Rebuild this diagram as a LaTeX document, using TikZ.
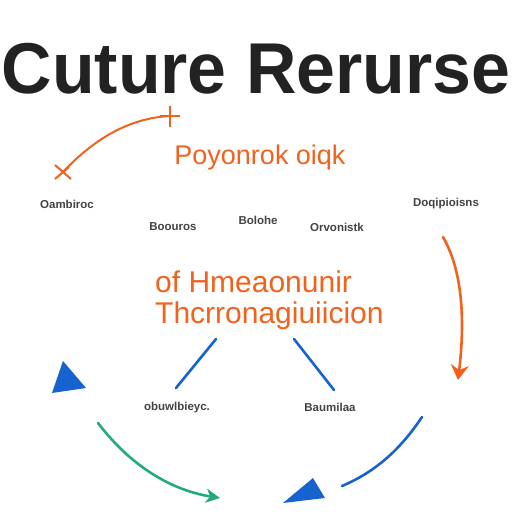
\documentclass[tikz,border=0pt]{standalone}
\usepackage{fontspec}
\setmainfont{Liberation Sans}
\usepackage{tikz}
\usetikzlibrary{arrows.meta,positioning}
\definecolor{org}{RGB}{242,98,28}
\definecolor{blu}{RGB}{22,98,206}
\definecolor{grn}{RGB}{34,172,122}
\definecolor{ink}{RGB}{34,34,34}

\begin{document}
\begin{tikzpicture}[x=1pt,y=-1pt]
\tikzstyle{title}=[text=ink,inner sep=0pt,font=\fontsize{72}{80}\selectfont\bfseries]
\tikzstyle{head}=[text=org,inner sep=0pt,font=\fontsize{30}{34}\selectfont]
\tikzstyle{tag}=[text=ink!85,inner sep=0pt,font=\fontsize{11.5}{13}\selectfont\bfseries]
\tikzstyle{flow}=[line width=2.6pt,line cap=round]
\useasboundingbox (0,0) rectangle (512,512);
% title and headings
\node [title,xscale=0.97,transform shape] at (256,69) (ttl) {Cuture Rerurse};
\node [head,font=\fontsize{27}{30}\selectfont] at (260,158) (sub) {Poyonrok oiqk};
\node [head,anchor=west] at (155,282) (mid1) {of Hmeaonunir};
\node [head,below=8pt of mid1.south west,anchor=north west] (mid2) {Thcrronagiuiicion};
% small labels
\node [tag] at (67,204) (l1) {Oambiroc};
\node [tag] at (173,227) (l2) {Boouros};
\node [tag] at (258,220) (l3) {Bolohe};
\node [tag] at (337,227) (l4) {Orvonistk};
\node [tag] at (446,204) (l5) {Doqipioisns};
\node [tag] at (177,408) (l6) {obuwlbieyc.};
\node [tag] at (330,407) (l7) {Baumilaa};
% arcs
\coordinate (xa) at (63,172);
\coordinate (pa) at (170,116);
\draw [flow,org,line width=2pt] (xa) .. controls (95,138) and (130,118) .. (pa);
\draw [org,line width=2pt] (pa) ++(-10,0) -- ++(20,0) (pa) ++(0,-10) -- ++(0,21);
\draw [org,line width=2pt] (xa) ++(-8,-7) -- ++(16,14) (xa) ++(-8,7) -- ++(14,-12);
\coordinate (ra) at (443,237);
\coordinate (rb) at (458,380);
\draw [flow,org,-{Stealth[length=15pt,width=18pt,inset=5pt]}] (ra) .. controls (465,275) and (464,330) .. (rb);
\coordinate (b1) at (176,388);
\coordinate (b2) at (216,339);
\coordinate (b3) at (294,339);
\coordinate (b4) at (334,390);
\draw [flow,blu] (b1) -- (b2);
\draw [flow,blu] (b3) -- (b4);
\fill [blu] (63,361) -- (86,388) -- (52,393) -- cycle;
\coordinate (ga) at (98,423);
\coordinate (gb) at (220,498);
\draw [flow,grn,-{Stealth[length=14pt,width=14pt,inset=4pt]}] (ga) .. controls (130,465) and (170,490) .. (gb);
\coordinate (ba) at (422,417);
\coordinate (bb) at (342,486);
\draw [flow,blu] (ba) .. controls (400,450) and (375,472) .. (bb);
\fill [blu] (283,503) -- (313,478) -- (325,498) -- cycle;
\end{tikzpicture}
\end{document}
